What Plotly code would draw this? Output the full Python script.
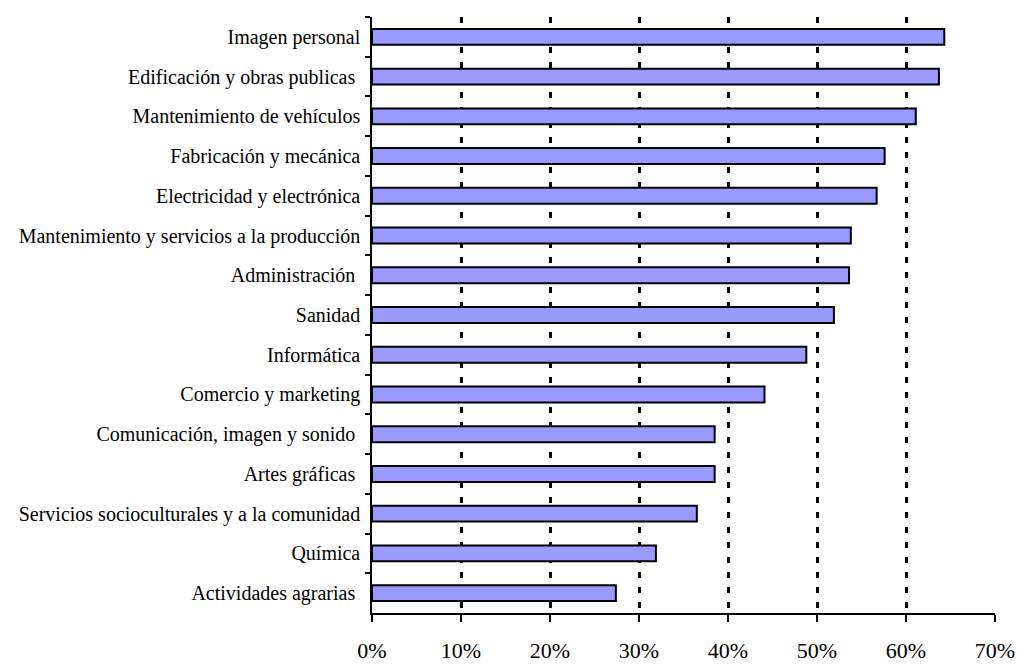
import plotly.graph_objects as go

categories = [
    "Imagen personal",
    "Edificación y obras publicas\u00a0",
    "Mantenimiento de vehículos",
    "Fabricación y mecánica",
    "Electricidad y electrónica",
    "Mantenimiento y servicios a la producción",
    "Administración\u00a0",
    "Sanidad",
    "Informática",
    "Comercio y marketing",
    "Comunicación, imagen y sonido\u00a0",
    "Artes gráficas\u00a0",
    "Servicios socioculturales y a la comunidad",
    "Química",
    "Actividades agrarias\u00a0",
]
values = [0.643, 0.637, 0.611, 0.576, 0.567, 0.538, 0.536, 0.519,
          0.488, 0.441, 0.385, 0.385, 0.365, 0.319, 0.274]
tick_vals = [0, 0.1, 0.2, 0.3, 0.4, 0.5, 0.6, 0.7]
tick_text = ["0%", "10%", "20%", "30%", "40%", "50%", "60%", "70%"]

FONT = "Liberation Serif, Times New Roman, serif"

fig = go.Figure(go.Bar(
    x=values, y=categories, orientation="h",
    marker=dict(color="#9999FF", line=dict(color="black", width=2)),
    width=0.4,
))

fig.update_layout(
    width=1017, height=666,
    margin=dict(l=372, r=22, t=17, b=53),
    plot_bgcolor="white", paper_bgcolor="white",
    showlegend=False,
    font=dict(family=FONT, size=20, color="black"),
)
fig.update_xaxes(
    range=[0, 0.7], tickvals=tick_vals, ticktext=tick_text,
    showgrid=True, gridcolor="black", gridwidth=2.5, griddash="6px,9px",
    showline=True, linecolor="black", linewidth=1.5,
    ticks="outside", ticklen=7, tickcolor="black", tickwidth=1.5,
    ticklabelstandoff=10, zeroline=False, automargin=False,
    tickfont=dict(family=FONT, size=22, color="black"),
)
fig.update_yaxes(
    categoryorder="array", categoryarray=categories, autorange="reversed",
    showline=True, linecolor="black", linewidth=1.5,
    ticks="outside", ticklen=5, tickcolor="black", tickwidth=1.5,
    tickson="boundaries", ticklabelstandoff=6, automargin=False,
    showgrid=False,
    tickfont=dict(family=FONT, size=20, color="black"),
)

fig.write_html(
    "out.html",
    config={"displayModeBar": False},
    post_script="document.body.style.margin='0';document.body.style.padding='0';",
)
